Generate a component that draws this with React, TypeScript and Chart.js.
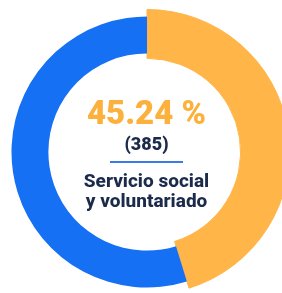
import React, { useEffect, useRef } from "react";
import { Chart, registerables } from "chart.js";

Chart.register(...registerables);

const categories = ["Servicio social y voluntariado", "Otros"];
const values = [385, 466];
const percentLabel = "45.24 %";
const countLabel = "(385)";
const titleLines = ["Servicio social", "y voluntariado"];

const ORANGE = "#FFB547";
const BLUE = "#1570F4";
const NAVY = "#1C2B4B";

export default function App() {
  const ref = useRef<HTMLCanvasElement | null>(null);

  useEffect(() => {
    document.body.style.margin = "0";
    const ctx = ref.current;
    if (!ctx) return;
    const chart = new Chart(ctx, {
      type: "doughnut",
      data: {
        labels: categories,
        datasets: [
          {
            data: values,
            backgroundColor: [ORANGE, "rgba(0,0,0,0)"],
            borderColor: [ORANGE, "rgba(0,0,0,0)"],
            borderWidth: [1, 0],
            weight: 7,
          },
          {
            data: values,
            backgroundColor: [ORANGE, BLUE],
            borderColor: [ORANGE, BLUE],
            borderWidth: [1, 0],
            weight: 37,
          },
          {
            data: values,
            backgroundColor: [ORANGE, "rgba(0,0,0,0)"],
            borderColor: [ORANGE, "rgba(0,0,0,0)"],
            borderWidth: [1, 0],
            weight: 5,
          },
        ],
      },
      options: {
        animation: false,
        responsive: true,
        maintainAspectRatio: false,
        cutout: "65.7%",
        layout: { padding: 0 },
        elements: { arc: { hoverOffset: 0, hoverBorderWidth: 0, offset: 0 } as any },
        plugins: {
          legend: { display: false },
          tooltip: { enabled: false },
        },
        events: [],
      },
    });
    return () => chart.destroy();
  }, []);

  const lineStyle = (top: number, size: number, color: string, lh: number, weight: number): React.CSSProperties => ({
    position: "absolute",
    left: 0,
    width: 293,
    top,
    textAlign: "center",
    fontFamily: "Roboto, sans-serif",
    fontWeight: weight,
    fontSize: size,
    lineHeight: lh + "px",
    color,
    whiteSpace: "nowrap",
  });

  return (
    <div style={{ position: "relative", width: 282, height: 293, overflow: "hidden", background: "#fff" }}>
      <div style={{ position: "absolute", left: 4, top: 9, width: 286, height: 286 }}>
        <canvas ref={ref} />
      </div>
      <div style={lineStyle(96, 33, "#FBB13C", 33, 900)}>{percentLabel}</div>
      <div style={lineStyle(136, 18, NAVY, 16, 900)}>{countLabel}</div>
      <div
        style={{
          position: "absolute",
          left: 110,
          width: 73,
          top: 161,
          height: 2,
          background: "#3A7BE6",
        }}
      />
      <div style={lineStyle(171, 19, NAVY, 20, 800)}>{titleLines[0]}</div>
      <div style={lineStyle(191, 19, NAVY, 20, 800)}>{titleLines[1]}</div>
    </div>
  );
}
